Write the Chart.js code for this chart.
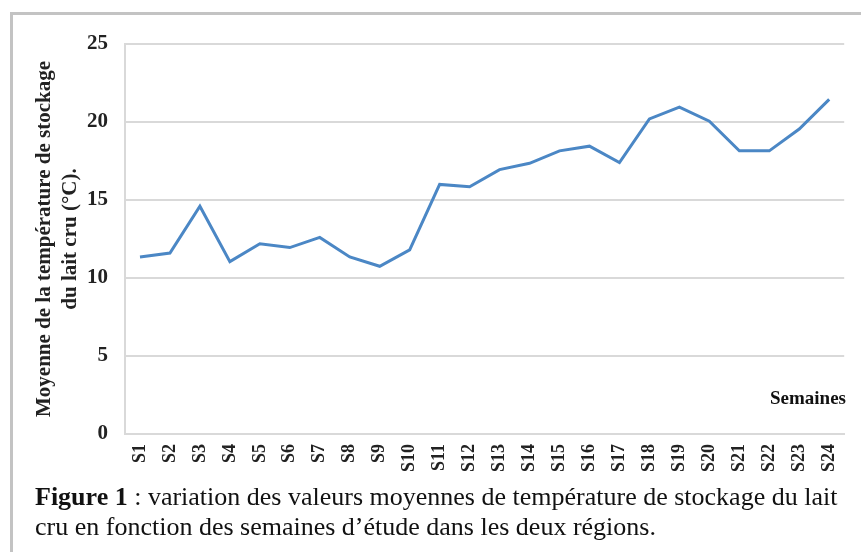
<!DOCTYPE html>
<html>
<head>
<meta charset="utf-8">
<script src="https://cdn.jsdelivr.net/npm/chart.js@4/dist/chart.umd.min.js"></script>
<style>
  html, body { margin: 0; padding: 0; background: #fff; }
  body { width: 861px; height: 552px; position: relative; overflow: hidden; }
  #frame { position: absolute; left: 10px; top: 12px; width: 900px; height: 600px;
           border-left: 3px solid #c3c3c3; border-top: 3px solid #c3c3c3; }
  #wrap { position: absolute; left: 0; top: 0; width: 861px; height: 484px; }
  #caption { position: absolute; left: 35px; top: 482px; font-family: "Liberation Serif", "Times New Roman", serif;
             font-size: 26px; line-height: 30px; color: #111; white-space: nowrap; }
</style>
</head>
<body>
<div id="frame"></div>
<div id="wrap"><canvas id="c" width="861" height="484"></canvas></div>
<div id="caption"><b>Figure 1</b> : variation des valeurs moyennes de température de stockage du lait<br>cru en fonction des semaines d’étude dans les deux régions.</div>
<script>
const weeks = ["S1","S2","S3","S4","S5","S6","S7","S8","S9","S10","S11","S12","S13","S14","S15","S16","S17","S18","S19","S20","S21","S22","S23","S24"];
const meanTemp = [11.35, 11.6, 14.6, 11.05, 12.2, 11.95, 12.6, 11.35, 10.75, 11.8, 16.0, 15.85, 16.95, 17.35, 18.15, 18.45, 17.4, 20.2, 20.95, 20.05, 18.15, 18.15, 19.55, 21.45];
const yTitle = ["Moyenne de la température de stockage", "du lait cru (°C)."];
const xTitle = "Semaines";

const semainesPlugin = {
  id: 'semaines',
  afterDraw(chart) {
    const ctx = chart.ctx;
    ctx.save();
    ctx.font = "bold 19px 'Liberation Serif'";
    ctx.fillStyle = "#111";
    ctx.textAlign = "right";
    ctx.textBaseline = "middle";
    ctx.fillText(xTitle, 846, 399);
    ctx.restore();
  }
};

new Chart(document.getElementById('c'), {
  type: 'line',
  data: {
    labels: weeks,
    datasets: [{
      data: meanTemp,
      borderColor: '#4b87c5',
      borderWidth: 3,
      pointRadius: 0,
      tension: 0,
      fill: false
    }]
  },
  options: {
    responsive: false,
    animation: false,
    devicePixelRatio: 1,
    layout: { padding: { top: 44, right: 9, bottom: 0, left: 0 } },
    plugins: { legend: { display: false }, tooltip: { enabled: false } },
    scales: {
      x: {
        offset: true,
        afterFit(scale) { scale.height = 50; },
        grid: { display: false, drawTicks: false },
        border: { display: true, color: '#d9d9d9', width: 2 },
        ticks: {
          maxRotation: 90, minRotation: 90, autoSkip: false, padding: 10,
          color: '#222',
          font: { family: "'Liberation Serif'", size: 18, weight: 'bold' }
        }
      },
      y: {
        min: 0, max: 25,
        afterFit(scale) { scale.width = 125; },
        ticks: {
          stepSize: 5, padding: 17, color: '#222',
          font: { family: "'Liberation Serif'", size: 21, weight: 'bold' }
        },
        grid: { color: '#d9d9d9', lineWidth: 2, drawTicks: false },
        border: { display: true, color: '#d9d9d9', width: 2 },
        title: {
          display: true,
          text: yTitle,
          color: '#222',
          padding: { top: 32, bottom: 0 },
          font: { family: "'Liberation Serif'", size: 21, weight: 'bold', lineHeight: 1.24 }
        }
      }
    }
  },
  plugins: [semainesPlugin]
});
</script>
</body>
</html>
